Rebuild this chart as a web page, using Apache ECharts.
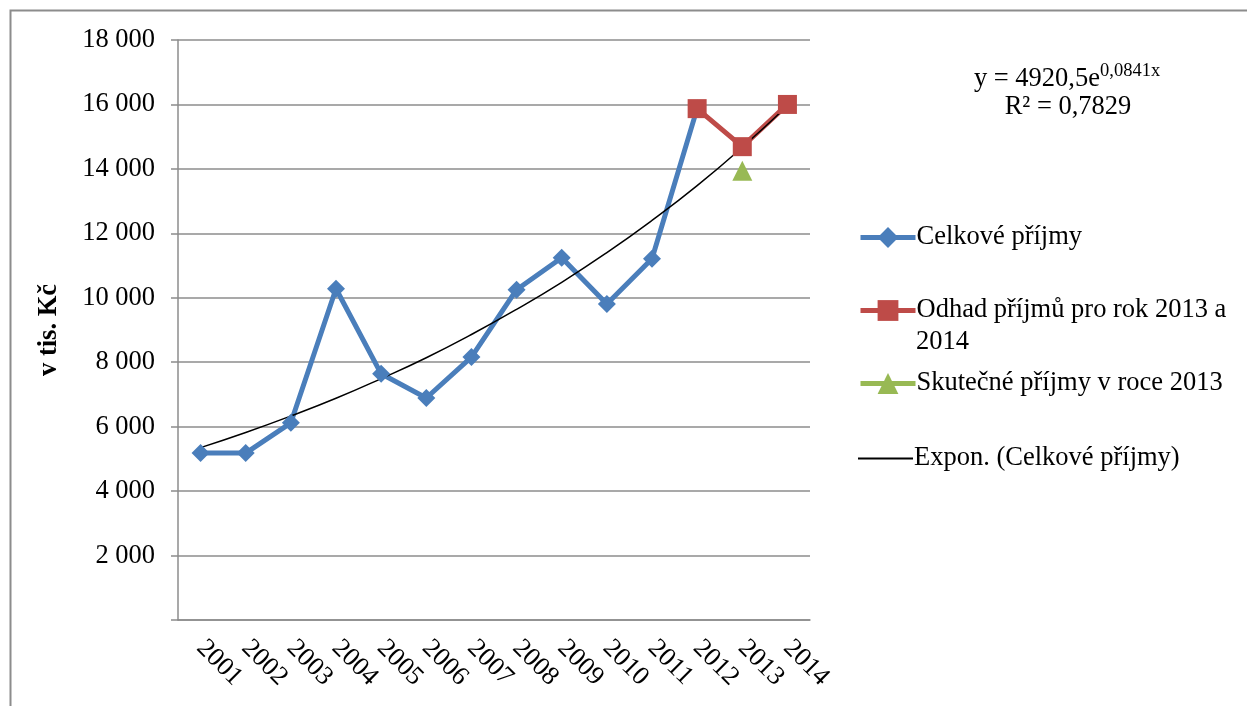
<!DOCTYPE html>
<html>
<head>
<meta charset="utf-8">
<title>Celkové příjmy</title>
<script src="https://cdn.jsdelivr.net/npm/echarts@6/dist/echarts.min.js"></script>
<style>
    html, body { margin: 0; padding: 0; background: #fff; }
    #myChart { width: 1247px; height: 706px; }
</style>
</head>
<body>
<div id="myChart"></div>
<script>
    // data
    let years = ['2001', '2002', '2003', '2004', '2005', '2006', '2007', '2008', '2009', '2010', '2011', '2012', '2013', '2014'];
    let celkove = [5180, 5180, 6120, 10280, 7640, 6890, 8160, 10250, 11240, 9810, 11210, 15870, null, null];
    let odhad = [null, null, null, null, null, null, null, null, null, null, null, 15870, 14690, 16000];
    let skutecne = [null, null, null, null, null, null, null, null, null, null, null, null, 13940, null];
    let expon = [5350, 5820, 6330, 6880, 7490, 8140, 8860, 9640, 10480, 11400, 12400, 13480, 14670, 15960];

    let font = 'Liberation Serif';
    let fs = 26.5;
    let colors = ['#4A7EBB', '#BE4B48', '#98B954', '#000000'];
    let names = ['Celkové příjmy', 'Odhad příjmů pro rok 2013 a 2014', 'Skutečné příjmy v roce 2013', 'Expon. (Celkové příjmy)'];

    function fmt(v) {
        if (v === 0) return '';
        return String(v).replace(/\B(?=(\d{3})+(?!\d))/g, ' ');
    }

    function legendFor(i, top) {
        let trend = i === 3;
        return {
            data: [trend ? { name: names[i], icon: 'rect' } : names[i]],
            left: 858,
            top: top,
            orient: 'vertical',
            itemWidth: 55,
            itemHeight: trend ? 2 : 26,
            itemGap: 0,
            padding: 0,
            lineStyle: { width: 5 },
            formatter: function (n) {
                return n === names[1] ? 'Odhad příjmů pro rok 2013 a' : n;
            },
            textStyle: { fontFamily: font, fontSize: fs, color: '#000', padding: [0, 0, 0, -4] }
        };
    }

    let myChart = echarts.init(document.getElementById('myChart'));
    let option = {
        animation: false,
        color: colors,
        grid: { left: 178, right: 437, top: 40, bottom: 86 },
        legend: [
            legendFor(0, 224),
            legendFor(1, 297),
            legendFor(2, 370),
            legendFor(3, 445)
        ],
        graphic: [
            {
                type: 'rect', silent: true,
                shape: { x: 10.5, y: 10.5, width: 1260, height: 720 },
                style: { fill: null, stroke: '#8c8c8c', lineWidth: 2 }
            },
            {
                type: 'text', x: 916, y: 342,
                style: { text: '2014', fontFamily: font, fontSize: fs, fill: '#000', verticalAlign: 'middle' }
            },
            {
                type: 'text', x: 1100, y: 79,
                style: { text: 'y = 4920,5e', fontFamily: font, fontSize: fs, fill: '#000', align: 'right', verticalAlign: 'middle' }
            },
            {
                type: 'text', x: 1100, y: 71,
                style: { text: '0,0841x', fontFamily: font, fontSize: 18.5, fill: '#000', verticalAlign: 'middle' }
            },
            {
                type: 'text', x: 1068, y: 107,
                style: { text: 'R² = 0,7829', fontFamily: font, fontSize: fs, fill: '#000', align: 'center', verticalAlign: 'middle' }
            }
        ],
        xAxis: {
            type: 'category',
            data: years,
            boundaryGap: true,
            axisLine: { lineStyle: { color: '#8c8c8c', width: 1.5 } },
            axisTick: { length: 8, lineStyle: { color: '#8c8c8c', width: 1.5 } },
            axisLabel: { rotate: -45, margin: 24, fontFamily: font, fontSize: fs, color: '#000', interval: 0 }
        },
        yAxis: {
            type: 'value',
            min: 0,
            max: 18000,
            interval: 2000,
            name: 'v tis. Kč',
            nameLocation: 'middle',
            nameGap: 115,
            nameRotate: 90,
            nameTextStyle: { fontFamily: font, fontSize: fs, fontWeight: 'bold', color: '#000' },
            axisLine: { show: true, lineStyle: { color: '#8c8c8c', width: 1.5 } },
            axisTick: { show: true, length: 7, lineStyle: { color: '#8c8c8c', width: 1.5 } },
            axisLabel: { margin: 23, formatter: fmt, fontFamily: font, fontSize: fs, color: '#000' },
            splitLine: { lineStyle: { color: '#8c8c8c', width: 1.5 } }
        },
        series: [
            {
                name: names[0], type: 'line', data: celkove,
                symbol: 'diamond', symbolSize: 18,
                lineStyle: { width: 5, color: colors[0] },
                itemStyle: { color: colors[0] }
            },
            {
                name: names[1], type: 'line', data: odhad,
                symbol: 'rect', symbolSize: 19,
                lineStyle: { width: 5, color: colors[1] },
                itemStyle: { color: colors[1] }
            },
            {
                name: names[2], type: 'line', data: skutecne,
                symbol: 'triangle', symbolSize: 20,
                lineStyle: { width: 5, color: colors[2] },
                itemStyle: { color: colors[2] }
            },
            {
                name: names[3], type: 'line', data: expon,
                smooth: true, symbol: 'none',
                lineStyle: { width: 1.5, color: colors[3] },
                itemStyle: { color: colors[3] }
            }
        ]
    };
    myChart.setOption(option);
</script>
</body>
</html>
